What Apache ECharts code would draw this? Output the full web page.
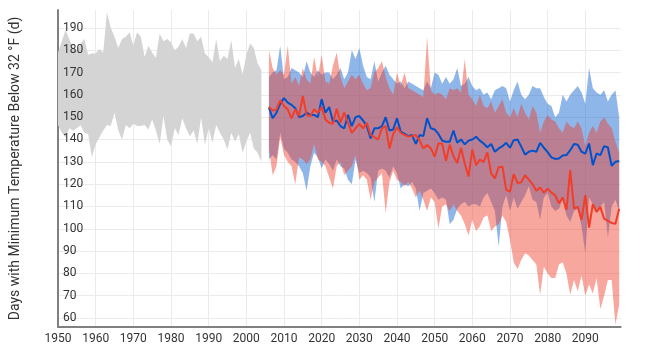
<!DOCTYPE html>
<html><head><meta charset="utf-8">
<script src="https://cdn.jsdelivr.net/npm/echarts@6/dist/echarts.min.js"></script>
<style>html,body{margin:0;padding:0;background:#fff}#c{width:656px;height:363px}</style>
</head><body><div id="c"></div>
<script>
// Observed (historical) range, 1950-2004
const histStart = 1950, histEnd = 2004;
const histUpper = [179,184,189,185,181,180,183,185,178,178.5,
  178.5,180.5,179,197,190,186,181,185,186,188,
  182,188,186,177,182,179,176.5,187.5,184,185,
  183.5,180,181.5,185,181,187.5,187.5,184,186,178.5,
  177,174.5,185,175,177.5,176,184.5,172,176,169,
  178,183,181,174,171];
const histLower = [146.5,143,141,145,144,145,146.5,143,142.5,132,
  138,141,144,146.5,146,152,144,140,146.5,145,
  147,146,146,146.5,144.5,149,144,138,150.5,140,
  137,145,142,149.5,145,141.5,144,138,150,137.5,
  145,138.5,146.5,143,140,135.5,143,139,142.5,134,
  139,143,136,134,130];

// Projections, 2006-2099
const projStart = 2006, projEnd = 2099;
const blueMean = [154.3,149.5,152,156,158.5,156.5,155.5,154,150,150.5,
  152,151,151,150,158,152,154.5,148,148.5,146,
  145,151,146,150,150.5,148.5,146,140.5,145,145,
  146,150,144,144.5,149.5,143.5,142.5,141.5,142,138,
  142,141.5,149.5,145,144.5,142.5,139.5,139,139,144,
  138.5,140,137.8,139.5,140,141.2,139.5,138.2,136.5,138,
  134.5,136,137,138.5,136.3,139.7,140,136.8,133.2,134.5,
  135,134.5,138.5,136.3,134.3,132,131.3,131.5,132.8,133,
  135.2,138,137.6,134.5,133.7,138.2,128.5,133.7,133,137,
  136.4,128.2,130,130.4];
const blueUpper = [168,170,171,182,167,168,172,171,170,168,
  175,170,168,171,169,170,170,167,169,172,
  167,170,180,176,181,173,168,167,175,166,
  170,173,169,167,165,166,163,166,165,164,
  163,162,166,163,170,169,165,168,165,167,
  172,164,165,168,164,162,163,160,161,158,
  162,163,164,163,157,162,166,160,158,160,
  164,163,163,159,156,155,150,152,160,157,
  160,162,164,161,156,172,163,161,160,162,
  157,160,162,150];
const blueLower = [131,133,131,143,136,134,131,130,128,125,
  117,128,134,132,127,131,129,126,131,128,
  127,122,120,131,125,126,125,123,112,126,
  127,126,123,128,125,118,120,119,121,118,
  108,116,117,118,116,113,114,113,102,104,
  109,111,112,110,111,111,110,114,116,112,
  108,92,110,115,108,114,109,112,115,119,
  113,112,104,114,116,110,108,109,113,106,
  103,108,109,101,89,114,111,108,110,112,
  96,110,113,108];
const redMean = [154.5,153,153.5,157.5,155,153.5,149.5,153.5,150.5,159.5,
  151,150.5,153.5,152,154.5,149,147.5,147,153.8,147.5,
  152,147.5,143,145,147,145,147.5,142,141,140,
  145,146,136,142.5,145.5,143,142,141.3,141.5,142,
  139.5,136,137.5,136,132.3,138.2,138.2,130.4,137.7,132.5,
  129.5,136.2,129.2,123.4,135.5,128.5,131,130,134.2,124.8,
  122.6,127.6,127.8,117.4,116.6,124.5,120.5,120.8,124,122,
  120,117,118.5,116.2,118,116.2,115,111.4,114,108.4,
  126.3,109.1,109.8,104,115.1,100.5,111,107.5,109.8,104.5,
  103.5,102.6,102.2,109];
const redUpper = [180,172,169,171,169,182,165,168,164,172,
  167,165,177,168,178,166,165,173,179,168,
  163,166,169,167,169,165,162,163,170,172,
  175,168,163,160,170,164,170,163,162,161,
  160,159,186,162,160,161,160,158,163,162,
  163,161,176,160,158,155,160,155,154,157,
  152,155,158,152,150,154,150,156,152,149,
  155,152,143,148,151,149,148,145,143,148,
  146,145,148,145,137,143,146,143,148,150,
  147,145,139,134];
const redLower = [136,124,128,141,133,130,128,120,132,131,
  129,131,138,131,130,128,123,118,128,130,
  124,126,128,133,122,124,122,113,121,123,
  125,107,121,126,122,121,119,121,118,114,
  117,113,108,114,112,100,110,111,108,111,
  108,106,102,97,104,99,101,105,106,99,
  101,102,106,103,95,85,82,86,89,88,
  86,84,70.5,83,80,78,78,84,85,80,
  70.5,77,72,79,70,75,71,78,64,70,
  77,77,57,66];

const xTicks = [1950,1960,1970,1980,1990,2000,2010,2020,2030,2040,2050,2060,2070,2080,2090];
const yTicks = [60,70,80,90,100,110,120,130,140,150,160,170,180,190];
const yTitle = 'Days with Minimum Temperature Below 32 °F (d)';

function years(a, b) { const r = []; for (let y = a; y <= b; y++) r.push(y); return r; }
const histYears = years(histStart, histEnd);
const projYears = years(projStart, projEnd);
const pairs = (xs, ys) => xs.map((x, i) => [x, ys[i]]);

// band drawn as one polygon through the cartesian coordinate system
function band(name, xs, lo, up, color) {
  return {
    name: name, type: 'custom', silent: true, clip: true,
    data: [[xs[0], lo[0]]],
    renderItem: function (params, api) {
      const pts = [];
      for (let i = 0; i < xs.length; i++) pts.push(api.coord([xs[i], up[i]]));
      for (let i = xs.length - 1; i >= 0; i--) pts.push(api.coord([xs[i], lo[i]]));
      return { type: 'polygon', shape: { points: pts }, style: { fill: color, stroke: null } };
    }
  };
}

const chart = echarts.init(document.getElementById('c'), null, { renderer: 'canvas' });
chart.setOption({
  animation: false,
  backgroundColor: '#fff',
  grid: { left: 55.5, right: 35.3, top: 10, bottom: 36 },
  xAxis: {
    type: 'value', min: 1950, max: 2099.4,
    axisLine: { show: true, lineStyle: { color: '#808080', width: 2 } },
    axisTick: { show: false, customValues: xTicks },
    axisLabel: { customValues: xTicks, color: '#333', fontSize: 12, fontFamily: 'Roboto', margin: 6,
      formatter: v => String(v) },
    splitLine: { show: true, lineStyle: { color: '#ebebeb', width: 1 } }
  },
  yAxis: [{
    type: 'value', min: 56, max: 198,
    name: yTitle, nameLocation: 'middle', nameGap: 36,
    nameTextStyle: { color: '#333', fontSize: 14, fontFamily: 'Roboto' },
    axisLine: { show: true, lineStyle: { color: '#808080', width: 2 } },
    axisTick: { show: false, customValues: yTicks },
    axisLabel: { show: false },
    splitLine: { show: true, lineStyle: { color: '#ebebeb', width: 1 } }
  }, {
    // label-only copy of the y axis, drawn above the bands
    type: 'value', min: 56, max: 198, position: 'left', offset: 0, z: 10,
    axisLine: { show: false },
    axisTick: { show: false, customValues: yTicks },
    axisLabel: { customValues: yTicks, inside: true, margin: 5, color: '#333', fontSize: 12, fontFamily: 'Roboto' },
    splitLine: { show: false }
  }],
  series: [
    band('hist', histYears, histLower, histUpper, '#d4d4d4'),
    band('blue', projYears, blueLower, blueUpper, 'rgba(0,88,204,0.44)'),
    band('red', projYears, redLower, redUpper, 'rgba(240,60,40,0.45)'),
    { name: 'blue mean', type: 'line', data: pairs(projYears, blueMean), symbol: 'none',
      lineStyle: { color: '#0052cc', width: 2 } },
    { name: 'red mean', type: 'line', data: pairs(projYears, redMean), symbol: 'none',
      lineStyle: { color: '#f23d28', width: 2 } }
  ]
});
</script></body></html>
